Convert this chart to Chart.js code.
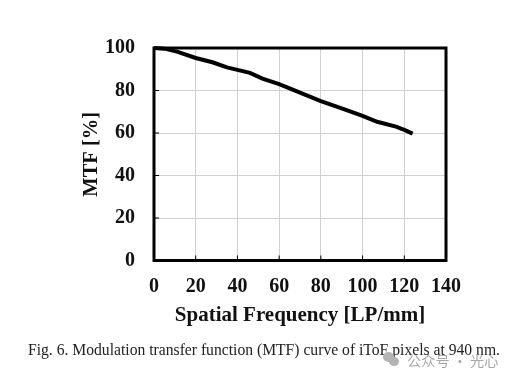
<!DOCTYPE html>
<html>
<head>
<meta charset="utf-8">
<script src="https://cdn.jsdelivr.net/npm/chart.js@4"></script>
<style>
    html, body { margin: 0; padding: 0; background: #fff; }
    #wrap { position: relative; width: 515px; height: 381px; overflow: hidden; }
    canvas { position: absolute; left: 0; top: 0; }
    .caption {
        position: absolute; left: 28px; top: 341px; white-space: nowrap;
        font: 15.65px "Liberation Serif", serif; color: #222;
    }
    .mark {
        position: absolute; left: 407px; top: 350px; white-space: nowrap;
        font: 14.2px "Noto Sans CJK SC", sans-serif; color: #a8a8a8;
    }
    .blob { position: absolute; border-radius: 50%; background: #b4b4b4; }
</style>
</head>
<body>
<div id="wrap">
    <canvas id="chart" width="515" height="381"></canvas>
    <div class="caption">Fig. 6. Modulation transfer function (MTF) curve of iToF pixels at 940 nm.</div>
    <div class="blob" style="left:383px;top:352px;width:11px;height:10px"></div>
    <div class="blob" style="left:389px;top:357px;width:10px;height:9px"></div>
    <div class="mark">公众号 · 光心</div>
</div>
<script>
// Values
const frequency = [0, 5, 11, 20, 28, 35, 46, 52, 60, 70, 80, 91, 100, 107, 116, 120, 124];
const mtf = [100, 99.7, 98.3, 95.3, 93.3, 90.9, 88.3, 85.6, 83, 79, 75, 71.2, 68.1, 65.3, 63, 61.5, 59.7];
const xTicks = [0, 20, 40, 60, 80, 100, 120, 140];
const yTicks = [0, 20, 40, 60, 80, 100];

const serif = '"Liberation Serif", serif';

// Black frame and short inward tick marks, as in the figure
const framePlugin = {
    id: 'frame',
    afterDatasetsDraw(chart) {
        const { ctx, chartArea: a, scales } = chart;
        ctx.save();
        ctx.strokeStyle = '#000';
        ctx.lineWidth = 1;
        ctx.beginPath();
        xTicks.forEach(v => {
            const x = scales.x.getPixelForValue(v);
            ctx.moveTo(x, a.bottom);
            ctx.lineTo(x, a.bottom - 5);
        });
        yTicks.forEach(v => {
            const y = scales.y.getPixelForValue(v);
            ctx.moveTo(a.left, y);
            ctx.lineTo(a.left + 5, y);
        });
        ctx.stroke();
        ctx.lineWidth = 3;
        ctx.strokeRect(a.left, a.top, a.right - a.left, a.bottom - a.top);
        ctx.restore();
    }
};

new Chart(document.getElementById('chart'), {
    type: 'line',
    data: {
        datasets: [{
            data: frequency.map((f, i) => ({ x: f, y: mtf[i] })),
            borderColor: '#000',
            borderWidth: 4,
            pointRadius: 0,
            tension: 0,
            clip: false
        }]
    },
    options: {
        responsive: false,
        animation: false,
        layout: { padding: { top: 48, right: 69, bottom: 0, left: 0 } },
        plugins: { legend: { display: false }, tooltip: { enabled: false } },
        scales: {
            x: {
                type: 'linear',
                min: 0,
                max: 140,
                afterFit(scale) { scale.height = 120.5; },
                afterBuildTicks(scale) { scale.ticks = xTicks.map(v => ({ value: v })); },
                grid: { color: '#d0d0d0', lineWidth: 1, drawTicks: false },
                border: { display: false },
                ticks: {
                    color: '#111',
                    padding: 14,
                    maxRotation: 0,
                    font: { family: serif, size: 20, weight: 'bold' }
                },
                title: {
                    display: true,
                    text: 'Spatial Frequency [LP/mm]',
                    color: '#111',
                    padding: { top: 0, bottom: 53 },
                    font: { family: serif, size: 21, weight: 'bold' }
                }
            },
            y: {
                min: 0,
                max: 100,
                afterFit(scale) { scale.width = 154; },
                afterBuildTicks(scale) { scale.ticks = yTicks.map(v => ({ value: v })); },
                grid: { color: '#d0d0d0', lineWidth: 1, drawTicks: false },
                border: { display: false },
                ticks: {
                    color: '#111',
                    padding: 19,
                    font: { family: serif, size: 20, weight: 'bold' }
                },
                title: {
                    display: true,
                    text: 'MTF [%]',
                    color: '#111',
                    padding: { top: 79, bottom: 0 },
                    font: { family: serif, size: 20.5, weight: 'bold' }
                }
            }
        }
    },
    plugins: [framePlugin]
});
</script>
</body>
</html>
